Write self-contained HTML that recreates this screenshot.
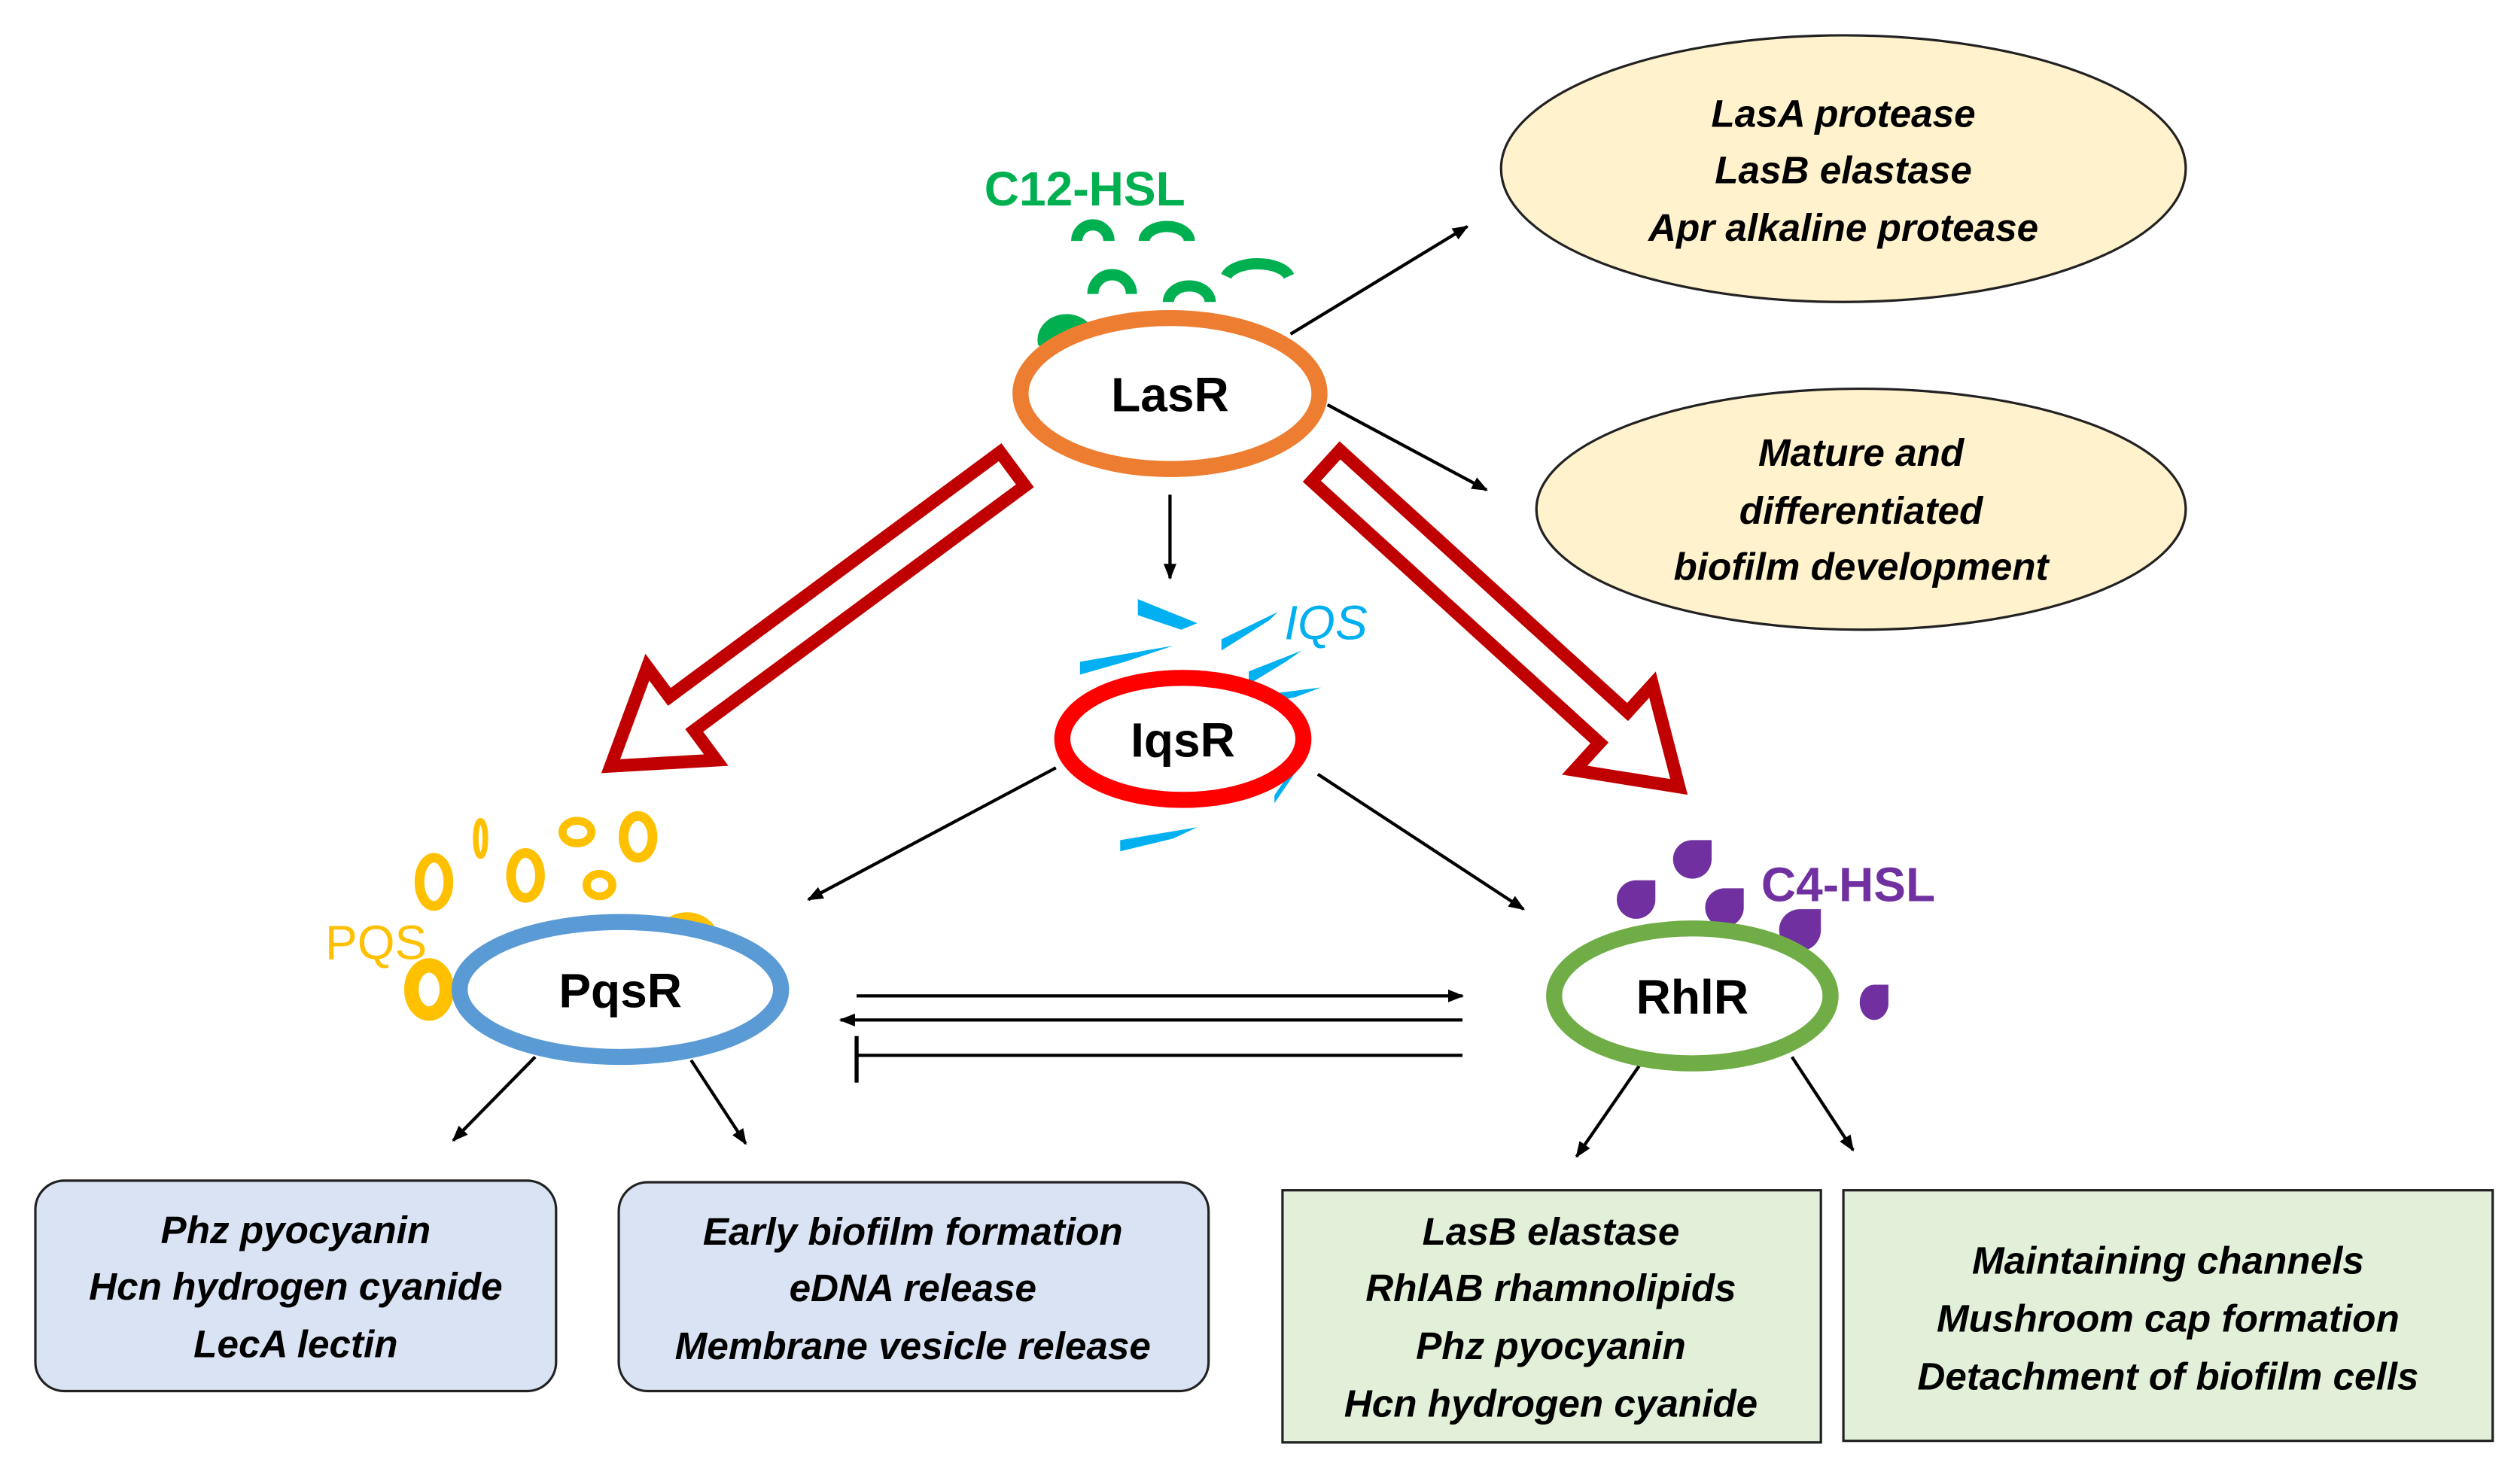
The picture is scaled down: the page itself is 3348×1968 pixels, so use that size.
<!DOCTYPE html>
<html><head><meta charset="utf-8"><style>html,body{margin:0;padding:0;background:#fff}svg{display:block}</style></head>
<body>
<svg width="3348" height="1968" viewBox="0 0 1568 922" preserveAspectRatio="none" xmlns="http://www.w3.org/2000/svg" font-family="Liberation Sans, sans-serif">
<defs>
<marker id="ah" markerWidth="10" markerHeight="10" refX="9" refY="5" orient="auto" markerUnits="userSpaceOnUse"><path d="M0,1 L10,5 L0,9 Z" fill="#000"/></marker>
</defs>
<rect width="1568" height="922" fill="#fff"/>
<ellipse cx="1147" cy="105" rx="213" ry="83" fill="#FFF2CC" stroke="#222" stroke-width="1.5"/>
<ellipse cx="1158" cy="317" rx="202" ry="75" fill="#FFF2CC" stroke="#222" stroke-width="1.5"/>
<g font-style="italic" font-weight="bold" font-size="24" text-anchor="middle" fill="#000">
<text x="1147" y="79">LasA protease</text>
<text x="1147" y="114">LasB elastase</text>
<text x="1147" y="150">Apr alkaline protease</text>
<text x="1158" y="290">Mature and</text>
<text x="1158" y="326">differentiated</text>
<text x="1158" y="361">biofilm development</text>
</g>
<rect x="22" y="735" width="324" height="131" rx="18" fill="#DAE3F3" stroke="#222" stroke-width="1.5"/>
<rect x="385" y="736" width="367" height="130" rx="18" fill="#DAE3F3" stroke="#222" stroke-width="1.5"/>
<rect x="798" y="741" width="335" height="157" fill="#E2F0D9" stroke="#222" stroke-width="1.5"/>
<rect x="1147" y="741" width="404" height="156" fill="#E2F0D9" stroke="#222" stroke-width="1.5"/>
<g font-style="italic" font-weight="bold" font-size="24" text-anchor="middle" fill="#000">
<text x="184" y="774">Phz pyocyanin</text>
<text x="184" y="809">Hcn hydrogen cyanide</text>
<text x="184" y="845">LecA lectin</text>
<text x="568" y="775">Early biofilm formation</text>
<text x="568" y="810">eDNA release</text>
<text x="568" y="846">Membrane vesicle release</text>
<text x="965" y="775">LasB elastase</text>
<text x="965" y="810">RhlAB rhamnolipids</text>
<text x="965" y="846">Phz pyocyanin</text>
<text x="965" y="882">Hcn hydrogen cyanide</text>
<text x="1349" y="793">Maintaining channels</text>
<text x="1349" y="829">Mushroom cap formation</text>
<text x="1349" y="865">Detachment of biofilm cells</text>
</g>
<g stroke="#000" stroke-width="2" marker-end="url(#ah)" fill="none">
<line x1="803" y1="208" x2="913" y2="141"/>
<line x1="826" y1="252" x2="925" y2="305"/>
<line x1="728" y1="308" x2="728" y2="360"/>
<line x1="657" y1="478" x2="503" y2="560"/>
<line x1="820" y1="482" x2="948" y2="566"/>
<line x1="333" y1="658" x2="282" y2="710"/>
<line x1="430" y1="660" x2="464" y2="712"/>
<line x1="1021" y1="662" x2="981" y2="720"/>
<line x1="1115" y1="658" x2="1153" y2="716"/>
<line x1="533" y1="620" x2="910" y2="620"/>
<line x1="910" y1="635" x2="523" y2="635"/>
</g>
<line x1="910" y1="657" x2="533" y2="657" stroke="#000" stroke-width="2"/>
<line x1="533" y1="645" x2="533" y2="674" stroke="#000" stroke-width="2.5"/>
<g fill="#fff" stroke="#C00000" stroke-width="8" stroke-linejoin="miter">
<polygon transform="translate(630,292) rotate(143.5)" points="0,-13 256,-13 256,-36 311,0 256,36 256,13 0,13"/>
<polygon transform="translate(825,290) rotate(42.3)" points="0,-13 242,-13 242,-36 297,0 242,36 242,13 0,13"/>
</g>
<g fill="none" stroke="#00B050" stroke-width="7">
<path d="M670,150 A10,10 0 0 1 690,150"/>
<path d="M712,150 A14,9 0 0 1 740,150"/>
<path d="M680,183 A12,12 0 0 1 704,183"/>
<path d="M727,188 A13,10 0 0 1 753,188"/>
<path d="M763,172 A20,10 0 0 1 802,172"/>
</g>
<text x="675" y="128" font-size="30" font-weight="bold" fill="#00B050" text-anchor="middle">C12-HSL</text>
<path d="M646,215 A18,16 0 0 1 680,205 L670,225 Z" fill="#00B050"/>
<g fill="#00B0F0">
<polygon points="708,373 745,388 735,392 708,383"/>
<polygon points="760,398 795,381 790,386 760,405"/>
<polygon points="672,412 730,402 700,412 672,420"/>
<polygon points="777,418 810,405 800,412 777,426"/>
<polygon points="790,432 822,428 806,434 786,438"/>
<polygon points="793,495 815,463 808,478 793,500"/>
<polygon points="697,523 745,515 730,522 697,530"/>
</g>
<text x="825" y="398" font-size="30" font-style="italic" fill="#00B0F0" text-anchor="middle">IQS</text>
<g fill="none" stroke="#FFC000">
<ellipse cx="270" cy="549" rx="9" ry="15" stroke-width="6"/>
<ellipse cx="299" cy="522" rx="3" ry="11" stroke-width="3.5"/>
<ellipse cx="327" cy="545" rx="9" ry="14" stroke-width="6"/>
<ellipse cx="359" cy="518" rx="9" ry="7" stroke-width="5"/>
<ellipse cx="373" cy="551" rx="8" ry="7" stroke-width="5"/>
<ellipse cx="397" cy="521" rx="9" ry="13" stroke-width="6"/>
<ellipse cx="267" cy="616" rx="11" ry="15" stroke-width="9"/>
<path d="M413,580 A16,14 0 0 1 442,580" stroke-width="8"/>
</g>
<text x="234" y="597" font-size="30" fill="#FFC000" text-anchor="middle">PQS</text>
<g fill="#7030A0">
<path d="M1018,548 L1030,548 L1030,560 A12,12 0 1 1 1018,548 Z"/>
<path d="M1053,523 L1065,523 L1065,535 A12,12 0 1 1 1053,523 Z"/>
<path d="M1073,553 L1085,553 L1085,565 A12,12 0 1 1 1073,553 Z"/>
<path d="M1120,566 L1133,566 L1133,579 A13,13 0 1 1 1120,566 Z"/>
<path d="M1166,613 L1175,613 L1175,626 A9,11 0 1 1 1166,613 Z"/>
</g>
<text x="1150" y="561" font-size="30" font-weight="bold" fill="#7030A0" text-anchor="middle">C4-HSL</text>
<ellipse cx="728" cy="245" rx="93" ry="47" fill="#fff" stroke="#ED7D31" stroke-width="10"/>
<ellipse cx="736" cy="460" rx="75" ry="38" fill="#fff" stroke="#FF0000" stroke-width="10"/>
<ellipse cx="386" cy="616" rx="100" ry="42" fill="#fff" stroke="#5B9BD5" stroke-width="10"/>
<ellipse cx="1053" cy="620" rx="86" ry="42" fill="#fff" stroke="#70AD47" stroke-width="10"/>
<g font-size="30" font-weight="bold" text-anchor="middle" fill="#000">
<text x="728" y="256">LasR</text>
<text x="736" y="471">IqsR</text>
<text x="386" y="627">PqsR</text>
<text x="1053" y="631">RhlR</text>
</g>
</svg>
</body></html>
